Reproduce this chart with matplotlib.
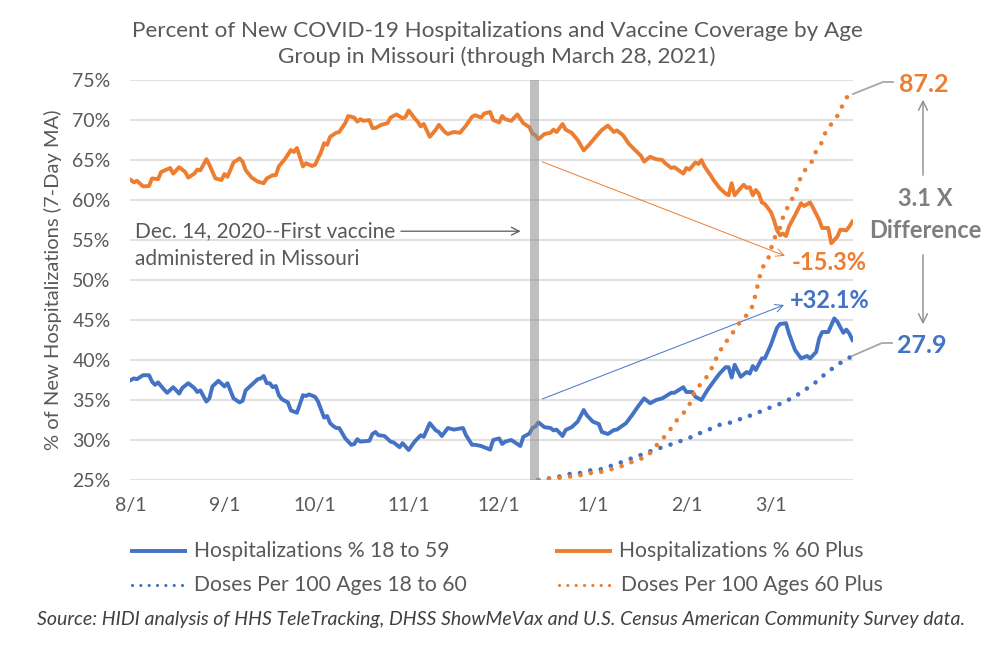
import numpy as np
import pandas as pd
import matplotlib
matplotlib.use('Agg')
import matplotlib.pyplot as plt
from matplotlib.lines import Line2D
from matplotlib.patches import FancyArrowPatch

plt.rcParams['font.family'] = ['Lato', 'DejaVu Sans']

# data (day offsets from 8/1/2020)
start = pd.Timestamp('2020-08-01')
vaccine_day = pd.Timestamp('2020-12-14')

old_days = [0, 1, 2, 4, 6, 7, 9, 10, 13, 14, 16, 18, 19, 21, 22, 23, 25, 26, 28, 30,
            31, 32, 34, 36, 37, 38, 40, 42, 44, 45, 47, 48, 49, 51, 53, 54, 55, 57, 58, 60,
            61, 63, 64, 65, 66, 68, 69, 71, 72, 74, 75, 76, 77, 79, 80, 81, 83, 85, 86, 88,
            90, 91, 92, 94, 95, 96, 97, 99, 101, 102, 104, 105, 107, 109, 111, 113, 114, 116, 117, 119,
            120, 122, 123, 124, 126, 128, 130, 132, 133, 134, 135, 137, 139, 140, 141, 143, 144, 146, 148, 150,
            152, 154, 156, 158, 160, 161, 163, 165, 167, 169, 170, 172, 174, 176, 177, 179, 180, 183, 184, 185,
            187, 188, 189, 190, 192, 193, 195, 197, 198, 199, 200, 202, 203, 204, 205, 206, 207, 208, 209, 210,
            212, 213, 214, 215, 216, 217, 218, 220, 222, 223, 225, 226, 228, 229, 231, 232, 234, 235, 237, 238,
            239]
old_pct = [62.5, 62.2, 62.4, 61.7, 61.75, 62.7, 62.6, 63.5, 64.0, 63.3, 64.1, 63.5, 62.8, 63.3, 63.8, 63.7, 65.1, 64.4, 62.7, 62.5,
           63.25, 62.9, 64.7, 65.2, 64.8, 63.75, 62.8, 62.3, 62.1, 62.7, 63.1, 63.1, 64.2, 65.1, 66.25, 66.0, 66.5, 64.2, 64.6, 64.25,
           64.4, 66.0, 67.1, 66.9, 67.9, 68.4, 68.5, 69.6, 70.5, 70.3, 69.8, 70.1, 69.9, 70.0, 69.0, 69.0, 69.4, 69.6, 70.3, 70.7,
           70.2, 70.4, 71.2, 70.2, 69.8, 69.2, 69.5, 67.9, 68.8, 69.4, 68.5, 68.25, 68.5, 68.4, 69.3, 70.4, 70.6, 70.3, 70.8, 71.0,
           70.0, 69.7, 70.5, 70.1, 69.9, 70.7, 69.6, 69.1, 68.3, 68.1, 67.6, 68.25, 68.4, 68.8, 68.5, 69.5, 68.8, 68.4, 67.5, 66.2,
           67.0, 67.9, 68.75, 69.3, 68.5, 68.7, 68.1, 67.0, 66.25, 65.5, 64.8, 65.4, 65.1, 65.0, 64.6, 64.0, 64.1, 63.3, 64.0, 63.8,
           64.7, 64.5, 65.0, 64.2, 63.1, 62.5, 61.5, 60.8, 60.6, 62.1, 60.6, 61.5, 61.9, 61.5, 61.6, 60.6, 61.25, 60.8, 59.7, 59.5,
           58.5, 57.5, 56.25, 55.6, 55.8, 55.5, 56.7, 58.1, 59.6, 59.25, 59.7, 59.0, 57.5, 56.5, 56.5, 54.6, 55.4, 56.3, 56.2, 56.7,
           57.3]

young_days = [0, 1, 2, 4, 6, 7, 8, 9, 11, 12, 14, 16, 17, 19, 21, 22, 23, 25, 26, 27,
              29, 31, 32, 34, 36, 37, 38, 40, 42, 43, 44, 45, 46, 47, 48, 49, 50, 52, 53, 55,
              57, 58, 59, 61, 62, 63, 64, 65, 66, 67, 68, 69, 71, 73, 74, 75, 76, 79, 80, 81,
              82, 84, 86, 87, 89, 90, 92, 94, 96, 97, 99, 101, 102, 103, 105, 107, 110, 111, 113, 114,
              116, 117, 119, 120, 122, 123, 124, 126, 129, 130, 132, 133, 134, 135, 137, 139, 140, 141, 143, 144,
              146, 148, 150, 151, 153, 155, 156, 158, 160, 161, 164, 166, 168, 170, 172, 174, 176, 179, 180, 183,
              184, 186, 187, 189, 191, 193, 195, 197, 198, 199, 200, 202, 204, 205, 206, 207, 209, 210, 212, 214,
              215, 217, 218, 220, 222, 224, 225, 227, 228, 229, 231, 233, 234, 236, 237, 238, 239]
young_pct = [37.5, 37.7, 37.6, 38.1, 38.1, 37.3, 36.9, 37.2, 36.3, 35.9, 36.6, 35.8, 36.5, 37.1, 36.5, 36.0, 36.2, 34.8, 35.2, 36.7,
             37.4, 36.7, 37.1, 35.2, 34.7, 34.9, 36.2, 36.9, 37.6, 37.7, 38.0, 37.1, 37.1, 36.6, 36.75, 35.6, 35.1, 34.7, 33.7, 33.4,
             35.6, 35.5, 35.7, 35.4, 34.8, 33.8, 32.8, 33.0, 32.1, 31.75, 31.5, 31.5, 30.2, 29.4, 29.5, 30.1, 29.8, 29.9, 30.75, 31.0,
             30.6, 30.5, 29.8, 29.7, 29.1, 29.6, 28.75, 29.8, 30.6, 30.4, 32.1, 31.2, 31.0, 30.5, 31.5, 31.3, 31.5, 30.6, 29.4, 29.4,
             29.25, 29.1, 28.8, 30.0, 30.2, 29.5, 29.8, 30.0, 29.25, 30.4, 30.8, 31.5, 31.7, 32.2, 31.6, 31.5, 31.2, 31.3, 30.5, 31.25,
             31.6, 32.3, 33.75, 33.1, 32.3, 32.0, 31.0, 30.75, 31.25, 31.3, 32.1, 33.1, 34.2, 35.2, 34.6, 35.0, 35.2, 35.9, 35.9, 36.6,
             36.0, 36.0, 35.4, 35.0, 36.25, 37.3, 38.3, 39.1, 39.1, 37.8, 39.4, 37.9, 38.5, 38.3, 39.25, 38.75, 40.2, 40.2, 41.9, 44.0,
             44.5, 44.6, 43.3, 41.25, 40.2, 40.5, 40.2, 41.0, 42.7, 43.5, 43.5, 45.2, 44.8, 43.4, 43.8, 43.3, 42.5]

dose_old_days = [135, 138, 142, 145, 148, 151, 155, 158, 161, 164, 167, 171, 173, 175, 177, 179, 181, 183, 185, 186,
                 188, 190, 192, 193, 195, 196, 198, 200, 202, 204, 206, 207, 208, 209, 211, 212, 213, 215, 216, 218,
                 220, 221, 222, 224, 226, 227, 229, 230, 232, 234, 235, 237, 239]
dose_old = [0, 0.2, 0.5, 0.75, 0.9, 1.5, 1.7, 2.25, 2.7, 3.5, 4.35, 5.25, 6.9, 8.5, 9.9, 11.7, 13.6, 15.0, 16.9, 18.9,
            21.0, 22.5, 24.4, 26.4, 28.5, 30.4, 31.7, 33.8, 35.8, 37.1, 39.2, 42.0, 45.0, 47.6, 49.5, 51.9, 54.2, 56.7, 59.1, 62.1,
            64.3, 66.4, 68.4, 70.4, 72.0, 74.1, 76.1, 78.1, 80.1, 81.9, 83.3, 86.0, 87.2]

dose_young_days = [135, 138, 142, 145, 148, 151, 155, 158, 161, 164, 167, 170, 173, 176, 180, 183, 186, 189, 192, 195,
                   198, 201, 204, 207, 210, 214, 217, 220, 222, 225, 228, 230, 233, 236, 239]
dose_young = [0, 0.3, 0.8, 1.35, 1.4, 2.1, 2.3, 2.9, 3.7, 4.3, 5.25, 5.85, 6.75, 7.35, 8.25, 9.0, 9.75, 10.7, 11.5, 12.4,
              12.8, 13.5, 14.25, 14.9, 15.9, 16.8, 17.8, 18.7, 19.8, 21.0, 22.6, 23.9, 25.4, 26.8, 27.9]

month_ticks = ['2020-08-01', '2020-09-01', '2020-10-01', '2020-11-01', '2020-12-01',
               '2021-01-01', '2021-02-01', '2021-03-01']


def to_dates(days):
    return start + pd.to_timedelta(days, unit='D')


def day(d):
    return start + pd.Timedelta(days=d)


BLUE = '#4472C4'
ORANGE = '#ED7D31'
GRAY = '#595959'

W, H = 1004, 670
fig = plt.figure(figsize=(W / 100, H / 100), dpi=100)


def fx(x):
    return x / W


def fy(y):
    return 1 - y / H


ax = fig.add_axes([fx(130), fy(480), fx(853) - fx(130), fy(80) - fy(480)])
ax2 = ax.twinx()

ax.plot(to_dates(young_days), young_pct, color=BLUE, lw=2.8, solid_joinstyle='round', zorder=3)
ax.plot(to_dates(old_days), old_pct, color=ORANGE, lw=2.8, solid_joinstyle='round', zorder=3)
dots = (0, (0.01, 2.3))
ax2.plot(to_dates(dose_young_days), dose_young, color=BLUE, lw=3.3, ls=dots,
         dash_capstyle='round', zorder=3)
ax2.plot(to_dates(dose_old_days), dose_old, color=ORANGE, lw=3.3, ls=dots,
         dash_capstyle='round', zorder=3)

# first-vaccine bar
ax2.axvspan(vaccine_day - pd.Timedelta(days=2.7), vaccine_day + pd.Timedelta(days=0.2),
            color='#8c8c8c', alpha=0.55, lw=0, zorder=4)

ax.set_ylim(25, 75)
ax2.set_ylim(0, 90)
ax.set_xlim(start - pd.Timedelta(days=0.3), start + pd.Timedelta(days=239.2))
ax.set_yticks(np.arange(25, 76, 5))
ax.set_yticklabels([f'{v}%' for v in range(25, 76, 5)])
ticks = pd.to_datetime(month_ticks)
ax.set_xticks(ticks)
ax.set_xticklabels([f'{d.month}/{d.day}' for d in ticks])
ax.grid(axis='y', color='#D9D9D9', lw=1.1)
ax.set_axisbelow(True)
ax.tick_params(length=0, labelsize=14, colors=GRAY)
ax.tick_params(axis='y', pad=14)
ax.tick_params(axis='x', pad=12)
ax2.set_yticks([])
for a in (ax, ax2):
    for s in a.spines.values():
        s.set_visible(False)
ax.set_ylabel('% of New Hospitalizations (7-Day MA)', fontsize=14.5, color=GRAY, labelpad=7)

# title
fig.text(fx(497), fy(44), 'Percent of New COVID-19 Hospitalizations and Vaccine Coverage by Age\n'
         'Group in Missouri (through March 28, 2021)', ha='center', va='center',
         fontsize=16.2, color=GRAY, linespacing=1.3)

# vaccine note
ax.text(day(1.3), 54.4, 'Dec. 14, 2020--First vaccine\nadministered in Missouri',
        ha='left', va='center', fontsize=15, color=GRAY, linespacing=1.5)
ax.annotate('', xy=(day(130), 56.1), xytext=(day(88.5), 56.1),
            arrowprops=dict(arrowstyle='->', color=GRAY, lw=0.9, mutation_scale=14))

# change arrows
ax.annotate('', xy=(day(217.5), 52.9), xytext=(day(135.4), 64.9),
            arrowprops=dict(arrowstyle='->', color=ORANGE, lw=0.7, mutation_scale=14), zorder=5)
ax.annotate('', xy=(day(217.2), 47.0), xytext=(day(135.4), 35.0),
            arrowprops=dict(arrowstyle='->', color=BLUE, lw=0.7, mutation_scale=14), zorder=5)
fig.text(fx(829), fy(263), '-15.3%', ha='center', va='center', fontsize=17, fontweight='bold', color=ORANGE)
fig.text(fx(830), fy(300), '+32.1%', ha='center', va='center', fontsize=17, fontweight='bold', color=BLUE)

# end labels
fig.text(fx(924), fy(85), '87.2', ha='center', va='center', fontsize=18, fontweight='bold', color=ORANGE)
fig.text(fx(922), fy(345), '27.9', ha='center', va='center', fontsize=18, fontweight='bold', color=BLUE)
fig.add_artist(Line2D([fx(853), fx(883), fx(893)], [fy(94), fy(82), fy(82)], color='#A6A6A6', lw=1.3))
fig.add_artist(Line2D([fx(852), fx(882), fx(892)], [fy(356), fy(343), fy(343)], color='#A6A6A6', lw=1.3))

fig.text(fx(925), fy(198), '3.1 X', ha='center', va='center', fontsize=17, fontweight='bold', color='#7F7F7F')
fig.text(fx(925), fy(230), 'Difference', ha='center', va='center', fontsize=17, fontweight='bold', color='#7F7F7F')
fig.add_artist(FancyArrowPatch((fx(923), fy(178)), (fx(923), fy(97)), transform=fig.transFigure,
                               arrowstyle='->', color='#8c8c8c', lw=1.0, mutation_scale=16))
fig.add_artist(FancyArrowPatch((fx(923), fy(252)), (fx(923), fy(327)), transform=fig.transFigure,
                               arrowstyle='->', color='#8c8c8c', lw=1.0, mutation_scale=16))

# legend (drawn by hand to keep the Excel layout)
legend_items = [('Hospitalizations % 18 to 59', BLUE, '-', 130, 551),
                ('Hospitalizations % 60 Plus', ORANGE, '-', 555, 551),
                ('Doses Per 100 Ages 18 to 60', BLUE, ':', 130, 585),
                ('Doses Per 100 Ages 60 Plus', ORANGE, ':', 557, 585)]
for label, col, style, x0, y0 in legend_items:
    if style == '-':
        fig.add_artist(Line2D([fx(x0), fx(x0 + 57)], [fy(y0), fy(y0)], color=col, lw=2.8, solid_capstyle='butt'))
    else:
        fig.add_artist(Line2D([fx(x0 + 2), fx(x0 + 54)], [fy(y0), fy(y0)], color=col, lw=2.3,
                              ls=(0, (0.01, 2.6)), dash_capstyle='round'))
    fig.text(fx(x0 + 64), fy(y0), label, ha='left', va='center', fontsize=15.2, color=GRAY)

fig.text(fx(37), fy(619), 'Source: HIDI analysis of HHS TeleTracking, DHSS ShowMeVax and U.S. Census '
         'American Community Survey data.', ha='left', va='center', fontsize=14, style='italic', color='#404040')

fig.savefig('out.png', dpi=100)
